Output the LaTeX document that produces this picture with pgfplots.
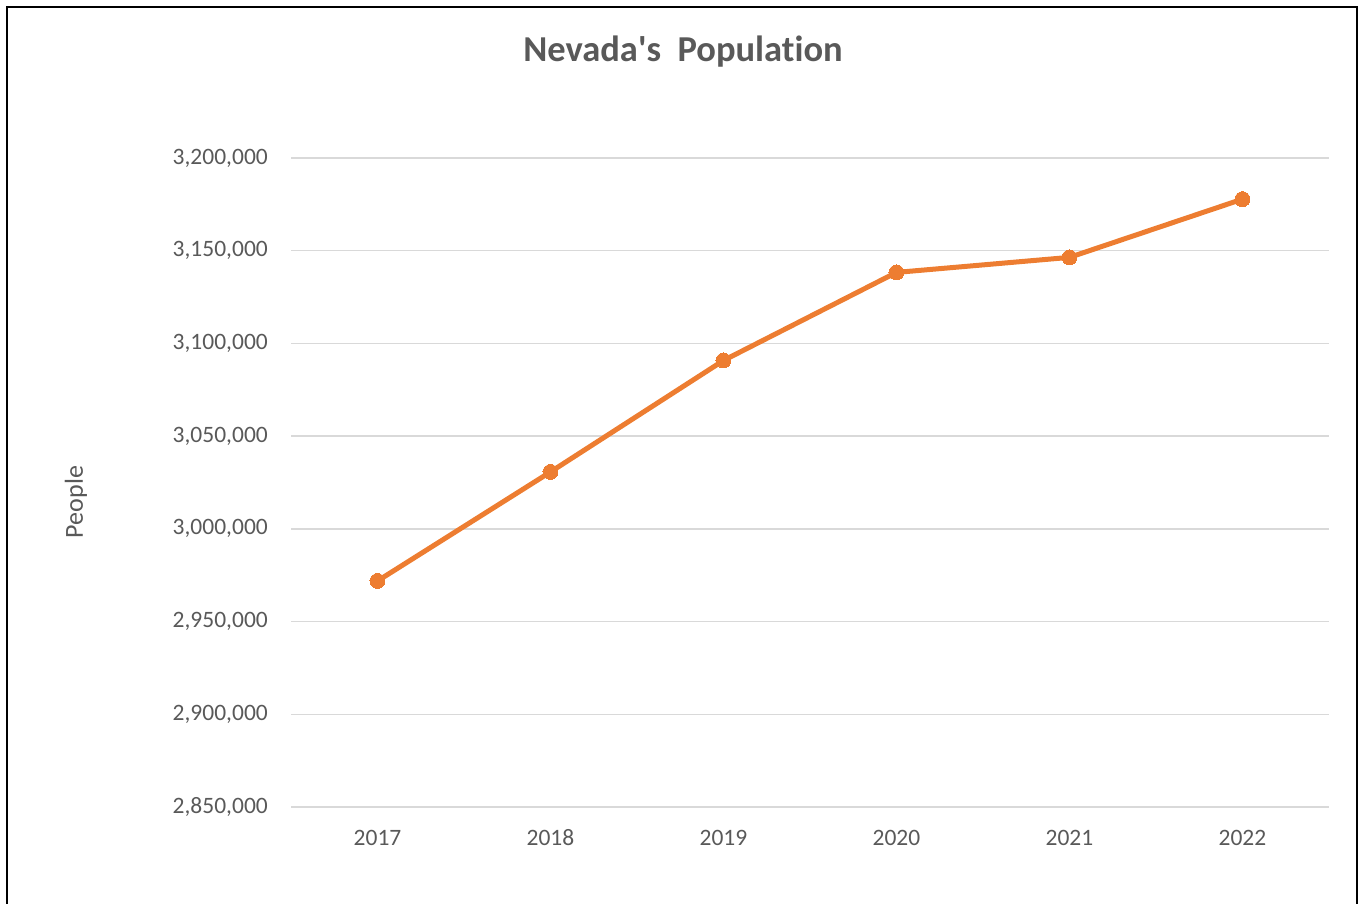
\documentclass[border=0pt]{standalone}
\usepackage{fontspec}
\setmainfont{Carlito}[Ligatures=TeXOff, RawFeature=-liga]
\usepackage{pgfplots}
\pgfplotsset{compat=1.18}
\definecolor{txt}{HTML}{595959}
\definecolor{gridc}{HTML}{D9D9D9}
\definecolor{popline}{HTML}{ED7D31}

\begin{document}
\begin{tikzpicture}[x=1pt,y=1pt]
\useasboundingbox (0,0) rectangle (1361,903);
\draw[line width=2pt] (7,-20) -- (7,896) -- (1357,896) -- (1357,-20);
\node[text=txt, font=\fontsize{36.5}{42}\selectfont\bfseries] at (683,851) {Nevada's\ \ Population};
\node[text=txt, font=\fontsize{26}{30}\selectfont, rotate=90] at (76,401) {People};
\begin{axis}[
    at={(291pt,96pt)}, anchor=south west,
    scale only axis,
    width=1038pt, height=649pt,
    xmin=-0.5, xmax=5.5,
    ymin=2850000, ymax=3200000,
    xtick={0,1,2,3,4,5},
    xticklabels={2017,2018,2019,2020,2021,2022},
    ytick={2850000,2900000,2950000,3000000,3050000,3100000,3150000,3200000},
    scaled y ticks=false,
    /pgf/number format/assume math mode=true,
    yticklabel={\pgfmathprintnumber[fixed,precision=0,1000 sep={,}]{\tick}},
    axis line style={draw=none},
    major tick style={draw=none},
    ymajorgrids,
    grid style={gridc, line width=1.5pt},
    tick label style={text=txt, font=\fontsize{23.5}{28}\selectfont},
    xticklabel style={anchor=center, yshift=-31pt},
    yticklabel style={anchor=east, inner sep=0pt, xshift=-23pt},
    clip=false,
]
\addplot[popline, line width=5pt, mark=*, mark size=7.5pt, mark options={fill=popline, draw=popline, line width=0pt}] coordinates {
    (0,2971900) (1,3030700) (2,3090800) (3,3138300) (4,3146400) (5,3177800)
};
\end{axis}
\end{tikzpicture}
\end{document}
